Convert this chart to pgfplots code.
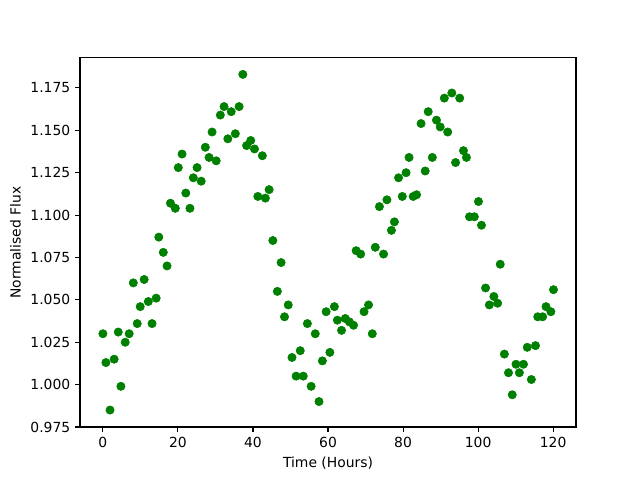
\documentclass[border=0pt]{standalone}
\usepackage{pgfplots}
\pgfplotsset{compat=1.18}
\usepackage{fontspec}
\setmainfont{DejaVu Sans}
\definecolor{mplgreen}{RGB}{0,128,0}
\begin{document}
\begin{tikzpicture}
\begin{axis}[
  scale only axis,
  width=357.1pt, height=265.7pt,
  xmin=-6.1, xmax=126.1,
  ymin=0.975, ymax=1.1927,
  xtick={0,20,40,60,80,100,120},
  ytick={0.975,1.000,1.025,1.050,1.075,1.100,1.125,1.150,1.175},
  yticklabel style={/pgf/number format/fixed,/pgf/number format/precision=3,/pgf/number format/fixed zerofill},
  /pgf/number format/assume math mode=true,
  tick align=outside,
  major tick length=3.5pt,
  xtick pos=bottom, ytick pos=left,
  axis line style={line width=0.8pt},
  every tick/.style={black, line width=0.8pt},
  tick label style={font=\fontsize{10}{12}\selectfont},
  label style={font=\fontsize{10}{12}\selectfont},
  xlabel={Time (Hours)},
  ylabel={Normalised Flux},
  clip=false,
]
\path (rel axis cs:-0.1613,-0.1436) rectangle (rel axis cs:1.129,1.157);
\addplot[only marks, mark=*, mark size=3pt, mplgreen, mark options={draw=mplgreen, fill=mplgreen}] coordinates {
(0.0,1.030) (0.8,1.013) (1.9,0.985) (3.0,1.015) (4.1,1.031) (4.8,0.999)
(5.95,1.025) (7.0,1.030) (8.1,1.060) (9.15,1.036) (9.95,1.046) (11.0,1.062)
(12.1,1.049) (13.1,1.036) (14.2,1.051) (14.9,1.087) (16.1,1.078) (17.1,1.070)
(18.0,1.107) (19.3,1.104) (20.1,1.128) (21.1,1.136) (22.1,1.113) (23.2,1.104)
(24.1,1.122) (25.1,1.128) (26.2,1.120) (27.3,1.140) (28.3,1.134) (29.1,1.149)
(30.2,1.132) (31.3,1.159) (32.3,1.164) (33.3,1.145) (34.2,1.161) (35.3,1.148)
(36.3,1.164) (37.3,1.183) (38.3,1.141) (39.4,1.144) (40.4,1.139) (41.3,1.111)
(42.5,1.135) (43.3,1.110) (44.3,1.115) (45.3,1.085) (46.5,1.055) (47.5,1.072)
(48.4,1.040) (49.4,1.047) (50.4,1.016) (51.5,1.005) (52.6,1.020) (53.4,1.005)
(54.5,1.036) (55.5,0.999) (56.6,1.030) (57.6,0.990) (58.5,1.014) (59.5,1.043)
(60.5,1.019) (61.7,1.046) (62.5,1.038) (63.6,1.032) (64.6,1.039) (65.7,1.037)
(66.8,1.035) (67.5,1.079) (68.7,1.077) (69.6,1.043) (70.8,1.047) (71.8,1.030)
(72.6,1.081) (73.7,1.105) (74.8,1.077) (75.7,1.109) (76.9,1.091) (77.7,1.096)
(78.8,1.122) (79.8,1.111) (80.8,1.125) (81.6,1.134) (82.7,1.111) (83.6,1.112)
(84.8,1.154) (85.9,1.126) (86.7,1.161) (87.8,1.134) (88.9,1.156) (89.9,1.152)
(91.0,1.169) (91.9,1.149) (93.0,1.172) (94.0,1.131) (95.1,1.169) (96.1,1.138)
(96.9,1.134) (97.7,1.099) (99.0,1.099) (100.1,1.108) (100.9,1.094) (102.0,1.057)
(103.0,1.047) (104.2,1.052) (105.2,1.048) (105.9,1.071) (107.0,1.018) (108.1,1.007)
(109.1,0.994) (110.1,1.012) (111.0,1.007) (112.1,1.012) (113.1,1.022) (114.2,1.003)
(115.3,1.023) (115.9,1.040) (117.2,1.040) (118.1,1.046) (119.4,1.043) (120.1,1.056)
};
\end{axis}
\end{tikzpicture}
\end{document}
